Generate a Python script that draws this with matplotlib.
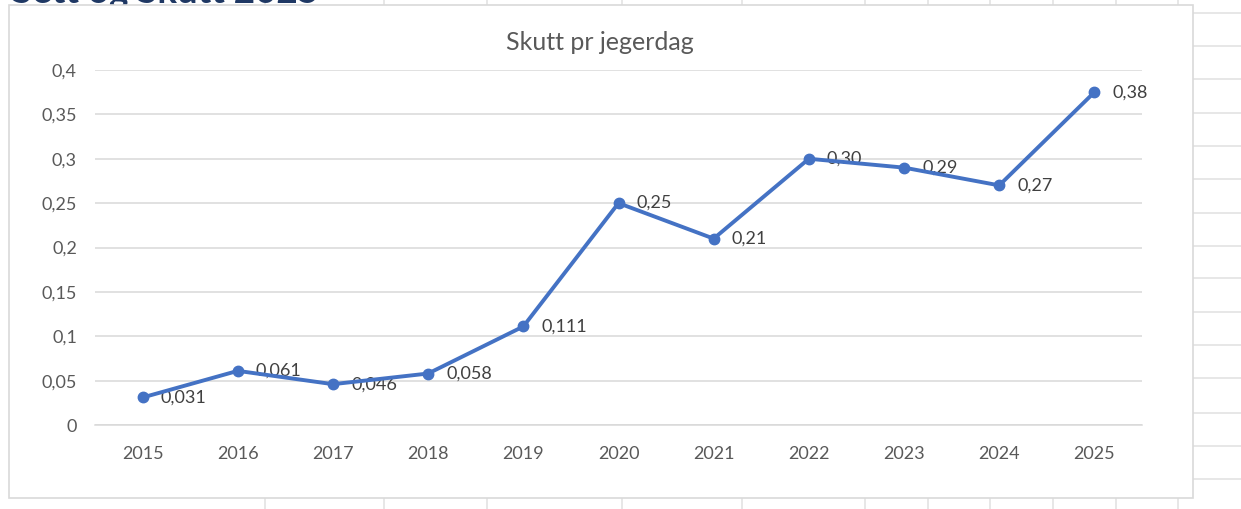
import matplotlib

matplotlib.use("Agg")
import matplotlib.pyplot as plt
from matplotlib.lines import Line2D
from matplotlib.patches import Rectangle
from matplotlib.ticker import FuncFormatter, MultipleLocator

# data
years = [2015, 2016, 2017, 2018, 2019, 2020, 2021, 2022, 2023, 2024, 2025]
shots_per_day = [0.031, 0.061, 0.046, 0.058, 0.111, 0.25, 0.21, 0.30, 0.29, 0.27, 0.375]
point_labels = ["0,031", "0,061", "0,046", "0,058", "0,111", "0,25", "0,21",
                "0,30", "0,29", "0,27", "0,38"]
chart_title = "Skutt pr jegerdag"
sheet_title = "Sett og Skutt 2025"

W, H = 1241, 509
FONT = ["Lato", "DejaVu Sans"]
BLUE = "#4472C4"
GREY_TXT = "#595959"
GRID = "#D9D9D9"
CELL = "#E3E3E3"

plt.rcParams["font.family"] = FONT


def fx(x):
    return x / W


def fy(y):
    return 1 - y / H


fig = plt.figure(figsize=(W / 100, H / 100), dpi=100)
fig.patch.set_facecolor("white")

# spreadsheet behind the chart (its heading is cut off at the top edge)
fig.text(fx(12), fy(3), sheet_title, fontsize=26.5, fontweight="bold",
         color="#1F3864", ha="left", va="baseline", zorder=1)
for x in [265, 384, 487, 622, 742, 865, 928, 990, 1053, 1116, 1178]:
    fig.add_artist(Line2D([fx(x), fx(x)], [fy(0), fy(6)], color=CELL, lw=1.2, zorder=1))
    fig.add_artist(Line2D([fx(x), fx(x)], [fy(497), fy(509)], color=CELL, lw=1.2, zorder=1))
for y in [13, 46, 79, 113, 146, 179, 213, 246, 278, 312, 345, 378, 413, 446, 479]:
    fig.add_artist(Line2D([fx(1193), fx(1241)], [fy(y), fy(y)], color=CELL, lw=1.2, zorder=1))

# chart area
fig.add_artist(Rectangle((fx(9), fy(498)), fx(1193) - fx(9), fy(5) - fy(498),
                         facecolor="white", edgecolor=GRID, lw=1.2, zorder=3))

ax = fig.add_axes([fx(95), fy(425), fx(1142) - fx(95), fy(70) - fy(425)])
ax.set_zorder(5)
ax.patch.set_alpha(0)

ax.plot(years, shots_per_day, color=BLUE, lw=2.8, marker="o", markersize=7.5,
        solid_capstyle="round", solid_joinstyle="round", zorder=4)
for x, y, lab in zip(years, shots_per_day, point_labels):
    ax.annotate(lab, (x, y), xytext=(13, 0), textcoords="offset points",
                ha="left", va="center", fontsize=13, color="#404040")

ax.set_xlim(years[0] - 0.5, years[-1] + 0.5)
ax.set_ylim(0, 0.4)
ax.set_xticks(years)
ax.yaxis.set_major_locator(MultipleLocator(0.05))
ax.yaxis.set_major_formatter(FuncFormatter(lambda v, p: f"{v:g}".replace(".", ",")))
ax.grid(axis="y", color=GRID, lw=1.1)
ax.set_axisbelow(True)
for side in ["top", "right", "left"]:
    ax.spines[side].set_visible(False)
ax.spines["bottom"].set_color(GRID)
ax.spines["bottom"].set_linewidth(1.1)
ax.tick_params(axis="both", length=0, labelsize=13, labelcolor=GREY_TXT)
ax.tick_params(axis="y", pad=13)
ax.tick_params(axis="x", pad=15)

fig.text(fx(600), fy(42), chart_title, fontsize=18, color=GREY_TXT,
         ha="center", va="center", zorder=6)

fig.savefig("out.png", dpi=100)
